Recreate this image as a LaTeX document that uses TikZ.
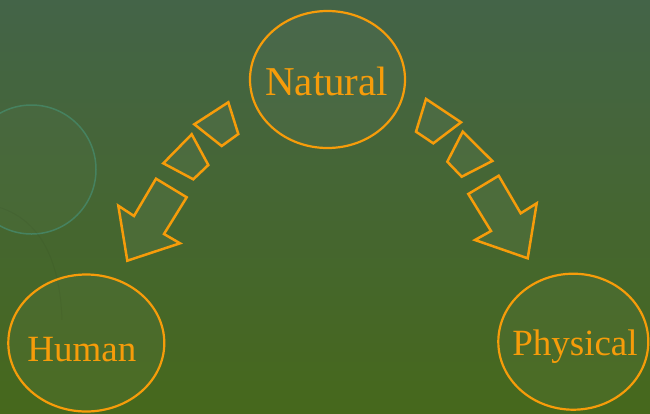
\documentclass[tikz,border=0pt]{standalone}
\usepackage{fontspec}
\setmainfont{Liberation Serif}
\usetikzlibrary{shapes.geometric}
\definecolor{orng}{RGB}{246,156,10}
\definecolor{bgtop}{RGB}{68,100,72}
\definecolor{bgmid}{RGB}{64,94,46}
\definecolor{bgbot}{RGB}{70,104,28}
\definecolor{ringc}{RGB}{70,130,96}
\tikzset{
  oval/.style={ellipse, draw=orng, line width=2.2pt, fill=white, fill opacity=0.03, text opacity=1, inner sep=0pt},
  lbl/.style={text=orng, font=\fontsize{37}{37}\selectfont, inner sep=0pt, anchor=base},
  blockarrow/.style={draw=orng, line width=2.5pt, line join=miter, fill=white, fill opacity=0.04},
}
\begin{document}
\begin{tikzpicture}[x=1pt,y=-1pt]
\useasboundingbox (0,0) rectangle (650,413);
\shade[top color=bgtop, middle color=bgmid, bottom color=bgbot] (0,0) rectangle (650,413);
% faint decorative ring
\draw[ringc, line width=1.5pt, fill=white, fill opacity=0.02] (31.5,169.5) circle (64.5);
\draw[black, opacity=0.04, line width=1pt] (-10,205) .. controls (40,215) and (60,260) .. (62,320);

% ellipses
\node[oval, minimum width=155pt, minimum height=137pt] (nat) at (327.5,79.5) {};
\node[oval, minimum width=156pt, minimum height=137pt] (hum) at (86.3,343) {};
\node[oval, minimum width=150pt, minimum height=136pt] (phy) at (573.3,341.7) {};
\node[lbl, font=\fontsize{41}{41}\selectfont] (natt) at (326.7,95) {Natural};
\node[lbl] (humt) at (81.8,361.7) {Human};
\node[lbl] (phyt) at (575,355) {Physical};

% left arrow
\draw[blockarrow] (194.3,124.3) -- (228.3,102.3) -- (238.3,134) -- (221.7,146) -- cycle;
\draw[blockarrow] (163.3,163.3) -- (191.7,134.3) -- (208.3,165) -- (193.3,179.3) -- cycle;
\draw[blockarrow] (156,178.7) -- (186.7,197.3) -- (164,234) -- (180,243.3) -- (127.3,260.7) -- (118.3,205.7) -- (134,216) -- cycle;

% right arrow
\draw[blockarrow] (426,99) -- (461,122.3) -- (433.3,143.3) -- (416,131.7) -- cycle;
\draw[blockarrow] (462.7,131.7) -- (492.3,161) -- (461.7,176.7) -- (447.3,161.7) -- cycle;
\draw[blockarrow] (498.7,175.7) -- (520.7,213.3) -- (536.7,203.3) -- (527.7,258.3) -- (475,240) -- (491,231) -- (468.3,194) -- cycle;
\end{tikzpicture}
\end{document}
